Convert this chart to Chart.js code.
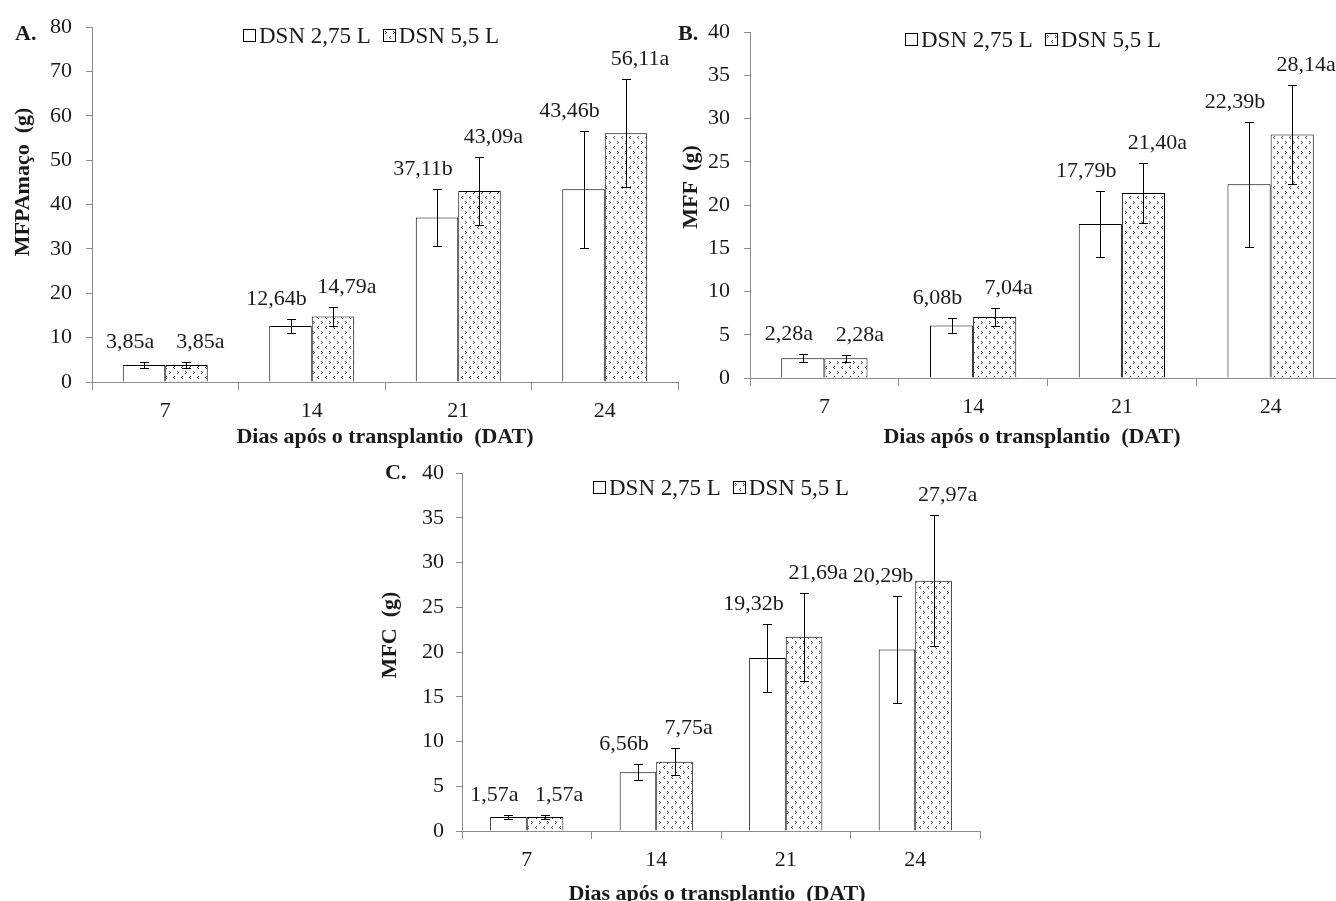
<!DOCTYPE html>
<html>
<head>
<meta charset="utf-8">
<script src="https://cdn.jsdelivr.net/npm/chart.js@4.4.1/dist/chart.umd.min.js"></script>
<style>
  html, body { margin: 0; padding: 0; background: #fff; overflow: hidden; }
  #page { position: relative; width: 1336px; height: 901px; overflow: hidden; font-family: "Liberation Serif", "Times New Roman", serif; color: #1a1a1a; }
  canvas { position: absolute; }
  .lbl { position: absolute; white-space: pre; line-height: 1; }
  .panel { font-weight: bold; font-size: 22px; }
  .xt { font-weight: bold; font-size: 22px; transform: translateX(-50%); }
  .yt { font-weight: bold; font-size: 22px; transform: translate(-50%, -50%) rotate(-90deg); }
  .legend { position: absolute; display: flex; align-items: center; font-size: 23px; line-height: 23px; white-space: pre; }
  .box { display: inline-block; width: 13px; height: 13px; box-sizing: border-box; border: 1px solid #000; background: #fff; margin-right: 3px; }
  .box.second { margin-left: 12px; }
</style>
</head>
<body>
<div id="page">
  <canvas id="chartA" width="690" height="460" style="left:0px; top:0px"></canvas>
  <canvas id="chartB" width="700" height="460" style="left:660px; top:0px"></canvas>
  <canvas id="chartC" width="640" height="461" style="left:370px; top:440px"></canvas>

  <div class="lbl panel" style="left:15px; top:22px">A.</div>
  <div class="lbl panel" style="left:678px; top:22px">B.</div>
  <div class="lbl panel" style="left:385px; top:461px">C.</div>

  <div class="lbl yt" style="left:22px; top:182px">MFPAmaço  (g)</div>
  <div class="lbl yt" style="left:690px; top:187px">MFF  (g)</div>
  <div class="lbl yt" style="left:389px; top:635px">MFC  (g)</div>

  <div class="lbl xt" style="left:385px; top:425px">Dias após o transplantio  (DAT)</div>
  <div class="lbl xt" style="left:1032px; top:425px">Dias após o transplantio  (DAT)</div>
  <div class="lbl xt" style="left:717px; top:882px">Dias após o transplantio  (DAT)</div>

  <div class="legend" style="left:243px; top:24px"><span class="box"></span>DSN 2,75 L<span class="box second pat"></span>DSN 5,5 L</div>
  <div class="legend" style="left:905px; top:28px"><span class="box"></span>DSN 2,75 L<span class="box second pat"></span>DSN 5,5 L</div>
  <div class="legend" style="left:593px; top:476px"><span class="box"></span>DSN 2,75 L<span class="box second pat"></span>DSN 5,5 L</div>
</div>

<script>
const days = ['7', '14', '21', '24']
const seriesNames = ['DSN 2,75 L', 'DSN 5,5 L']

// A. MFPAmaço (g)
const mfpaSmall = [3.85, 12.64, 37.11, 43.46]
const mfpaLarge = [3.85, 14.79, 43.09, 56.11]
const mfpaSmallErr = [0.7, 1.5, 6.4, 13.2]
const mfpaLargeErr = [0.7, 2.2, 7.7, 12.2]
const mfpaSmallLetters = ['a', 'b', 'b', 'b']
const mfpaLargeLetters = ['a', 'a', 'a', 'a']

// B. MFF (g)
const mffSmall = [2.28, 6.08, 17.79, 22.39]
const mffLarge = [2.28, 7.04, 21.40, 28.14]
const mffSmallErr = [0.45, 0.9, 3.8, 7.2]
const mffLargeErr = [0.4, 1.0, 3.5, 5.7]
const mffSmallLetters = ['a', 'b', 'b', 'b']
const mffLargeLetters = ['a', 'a', 'a', 'a']

// C. MFC (g)
const mfcSmall = [1.57, 6.56, 19.32, 20.29]
const mfcLarge = [1.57, 7.75, 21.69, 27.97]
const mfcSmallErr = [0.2, 0.9, 3.8, 6.0]
const mfcLargeErr = [0.25, 1.5, 4.9, 7.3]
const mfcSmallLetters = ['a', 'b', 'b', 'b']
const mfcLargeLetters = ['a', 'a', 'a', 'a']

const yTicksA = { min: 0, max: 80, step: 10 }
const yTicksB = { min: 0, max: 40, step: 5 }
const yTicksC = { min: 0, max: 40, step: 5 }

Chart.defaults.font.family = '"Liberation Serif", "Times New Roman", serif'
Chart.defaults.color = '#1a1a1a'

// small "< >" fill like the excel pattern
const patCanvas = document.createElement('canvas')
patCanvas.width = 8
patCanvas.height = 10
const pctx = patCanvas.getContext('2d')
pctx.fillStyle = '#fff'
pctx.fillRect(0, 0, 8, 10)
pctx.fillStyle = '#444'
pctx.fillRect(1, 1, 1, 1); pctx.fillRect(2, 2, 1, 1); pctx.fillRect(1, 3, 1, 1)
pctx.fillRect(6, 6, 1, 1); pctx.fillRect(5, 7, 1, 1); pctx.fillRect(6, 8, 1, 1)
const dotted = pctx.createPattern(patCanvas, 'repeat')

document.querySelectorAll('.box.pat').forEach(b => {
    b.style.backgroundImage = 'url(' + patCanvas.toDataURL() + ')'
})

// error bars + value labels
const errorBars = {
    id: 'errorBars',
    afterDatasetsDraw(chart) {
        const ctx = chart.ctx
        const y = chart.scales.y
        chart.data.datasets.forEach((ds, i) => {
            const meta = chart.getDatasetMeta(i)
            meta.data.forEach((bar, j) => {
                const v = ds.data[j]
                const e = ds.errors[j]
                const top = Math.round(y.getPixelForValue(v + e)) + 0.5
                const bot = Math.round(y.getPixelForValue(v - e)) + 0.5
                const x = Math.round(bar.x) + 0.5
                ctx.save()
                ctx.strokeStyle = '#000'
                ctx.lineWidth = 1
                ctx.beginPath()
                ctx.moveTo(x, top); ctx.lineTo(x, bot)
                ctx.moveTo(x - 4.5, top); ctx.lineTo(x + 4.5, top)
                ctx.moveTo(x - 4.5, bot); ctx.lineTo(x + 4.5, bot)
                ctx.stroke()
                ctx.font = '22px "Liberation Serif"'
                ctx.fillStyle = '#1a1a1a'
                ctx.textAlign = 'center'
                ctx.textBaseline = 'middle'
                const txt = v.toFixed(2).replace('.', ',') + ds.letters[j]
                ctx.fillText(txt, bar.x + (i === 0 ? -14 : 14), top - 20)
                ctx.restore()
            })
        })
    }
}

function makeChart(id, small, large, smallErr, largeErr, smallLet, largeLet, yt, opt) {
    return new Chart(document.getElementById(id), {
        type: 'bar',
        data: {
            labels: days,
            datasets: [
                {
                    label: seriesNames[0],
                    data: small,
                    errors: smallErr,
                    letters: smallLet,
                    backgroundColor: '#fff',
                    borderColor: '#000',
                    borderWidth: 1
                },
                {
                    label: seriesNames[1],
                    data: large,
                    errors: largeErr,
                    letters: largeLet,
                    backgroundColor: dotted,
                    borderColor: '#000',
                    borderWidth: 1
                }
            ]
        },
        options: {
            responsive: false,
            animation: false,
            devicePixelRatio: 1,
            categoryPercentage: opt.cat,
            barPercentage: 1,
            layout: { padding: opt.pad },
            plugins: {
                legend: { display: false },
                tooltip: { enabled: false }
            },
            scales: {
                x: {
                    grid: { drawOnChartArea: false, color: '#8c8c8c', tickLength: 8 },
                    border: { color: '#8c8c8c' },
                    ticks: { font: { size: 22 }, padding: 8, color: '#1a1a1a' },
                    afterFit: s => { s.height = 40 }
                },
                y: {
                    min: yt.min,
                    max: yt.max,
                    grid: { drawOnChartArea: false, color: '#8c8c8c', tickLength: 6 },
                    border: { color: '#8c8c8c' },
                    ticks: { stepSize: yt.step, font: { size: 22 }, padding: opt.yPad, color: '#1a1a1a' },
                    afterFit: s => { s.width = opt.yWidth }
                }
            }
        },
        plugins: [errorBars]
    })
}

makeChart('chartA', mfpaSmall, mfpaLarge, mfpaSmallErr, mfpaLargeErr, mfpaSmallLetters, mfpaLargeLetters, yTicksA,
    { cat: 0.58, yWidth: 92, yPad: 14, pad: { left: 0, top: 23, right: 12, bottom: 38 } })

makeChart('chartB', mffSmall, mffLarge, mffSmallErr, mffLargeErr, mffSmallLetters, mffLargeLetters, yTicksB,
    { cat: 0.58, yWidth: 90, yPad: 14, pad: { left: 0, top: 32, right: 15, bottom: 42 } })

makeChart('chartC', mfcSmall, mfcLarge, mfcSmallErr, mfcLargeErr, mfcSmallLetters, mfcLargeLetters, yTicksC,
    { cat: 0.565, yWidth: 92, yPad: 12, pad: { left: 0, top: 33, right: 30, bottom: 30 } })
</script>
</body>
</html>
